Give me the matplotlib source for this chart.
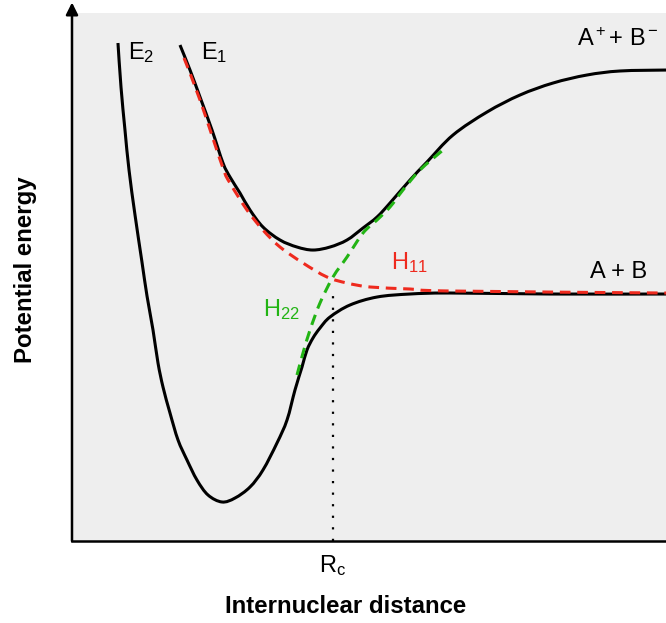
import matplotlib
matplotlib.use("Agg")
import numpy as np
import matplotlib.pyplot as plt
from matplotlib.path import Path
from matplotlib.patches import PathPatch

plt.rcParams['font.family'] = ['Liberation Sans', 'DejaVu Sans']
plt.rcParams['mathtext.fontset'] = 'custom'
plt.rcParams['mathtext.rm'] = 'Liberation Sans'
plt.rcParams['mathtext.it'] = 'Liberation Sans'

# curves (arbitrary units, axes span 0..10 both ways)
e2_r = [0.774, 0.825, 0.892, 0.960, 1.061, 1.178, 1.263, 1.364, 1.448, 1.532,
        1.650, 1.785, 1.936, 2.104, 2.290, 2.525, 2.744, 2.997, 3.215, 3.451,
        3.620, 3.754, 3.872, 3.956, 4.057, 4.175, 4.343, 4.680, 5.135, 5.690,
        6.364, 8.047, 10.0]
e2_v = [9.432, 8.598, 7.784, 7.027, 6.174, 5.284, 4.640, 3.996, 3.371, 2.917,
        2.424, 1.913, 1.534, 1.155, 0.871, 0.739, 0.814, 1.023, 1.345, 1.856,
        2.292, 2.860, 3.295, 3.617, 3.845, 4.034, 4.242, 4.470, 4.621, 4.678,
        4.697, 4.678, 4.678]

e1_r = [1.818, 1.987, 2.155, 2.357, 2.542, 2.660, 2.828, 2.997, 3.215, 3.502,
        3.788, 4.057, 4.343, 4.630, 4.899, 5.135, 5.354, 5.690, 5.976, 6.414,
        6.987, 7.542, 8.098, 8.670, 9.226, 10.0]
e1_v = [9.394, 8.920, 8.409, 7.784, 7.159, 6.894, 6.591, 6.269, 5.947, 5.701,
        5.568, 5.511, 5.568, 5.701, 5.928, 6.136, 6.402, 6.837, 7.178, 7.689,
        8.125, 8.447, 8.674, 8.826, 8.902, 8.920]

h11_r = [1.886, 2.155, 2.542, 2.660, 2.946, 3.215, 3.502, 3.889, 4.293, 4.630,
         5.017, 5.690, 6.364, 10.0]
h11_v = [9.148, 8.352, 7.064, 6.780, 6.269, 5.890, 5.568, 5.265, 5.000, 4.886,
         4.811, 4.773, 4.735, 4.697]

h22_r = [3.788, 3.889, 4.007, 4.175, 4.394, 4.630, 4.899, 5.135, 5.354, 5.572,
         5.859, 6.246]
h22_v = [3.144, 3.561, 3.996, 4.508, 5.000, 5.379, 5.833, 6.080, 6.326, 6.648,
         7.027, 7.405]

r_c = 4.394
r_c_top = 4.66

red = '#ee2a1e'
green = '#22b414'


def smooth_path(xs, ys):
    # bezier path through the read points (catmull-rom tangents)
    p = np.column_stack([xs, ys])
    verts = [p[0]]
    codes = [Path.MOVETO]
    for i in range(len(p) - 1):
        p0 = p[i - 1] if i > 0 else p[i]
        p3 = p[i + 2] if i + 2 < len(p) else p[i + 1]
        verts += [p[i] + (p[i + 1] - p0) / 6, p[i + 1] - (p3 - p[i]) / 6, p[i + 1]]
        codes += [Path.CURVE4] * 3
    return Path(verts, codes)


fig = plt.figure(figsize=(6.66, 6.23), dpi=100)
ax = fig.add_axes([0.1081, 0.1316, 0.8919, 0.8475])
ax.set_facecolor('#eeeeee')

for xs, ys, col, ls in [(e2_r, e2_v, 'black', '-'),
                        (e1_r, e1_v, 'black', '-'),
                        (h11_r, h11_v, red, (0, (3.5, 2.2))),
                        (h22_r, h22_v, green, (0, (3.5, 2.2)))]:
    ax.add_patch(PathPatch(smooth_path(xs, ys), facecolor='none', edgecolor=col,
                           lw=2.2, linestyle=ls, capstyle='butt'))

ax.plot([r_c, r_c], [0, r_c_top], color='black', lw=1.6, dashes=(1, 4.2))

fs = 17
ax.text(0.943, 9.26, 'E$_2$', fontsize=fs, va='center', ha='left')
ax.text(2.172, 9.26, 'E$_1$', fontsize=fs, va='center', ha='left')
ax.text(9.88, 9.49, 'A$^+$+ B$^-$', fontsize=fs, va='center', ha='right')
ax.text(8.72, 5.09, 'A + B', fontsize=fs, va='center', ha='left')
ax.text(5.37, 5.28, 'H$_{11}$', fontsize=fs, va='center', ha='left', color=red)
ax.text(3.22, 4.375, 'H$_{22}$', fontsize=fs, va='center', ha='left', color=green)
ax.text(r_c, -0.47, 'R$_c$', fontsize=fs, va='center', ha='center')

ax.set_xlim(0, 10)
ax.set_ylim(0, 10)
ax.set_xticks([])
ax.set_yticks([])
ax.spines['top'].set_visible(False)
ax.spines['right'].set_visible(False)
ax.spines['left'].set_visible(False)
ax.spines['bottom'].set_linewidth(1.8)

# energy axis drawn as an arrow
ax.annotate('', xy=(0, 1.02), xytext=(0, 0), xycoords='axes fraction',
            arrowprops=dict(arrowstyle='-|>', color='black', lw=1.8,
                            mutation_scale=18, shrinkA=0, shrinkB=0),
            annotation_clip=False)

ax.set_xlabel('Internuclear distance', fontsize=17.3, fontweight='bold')
ax.xaxis.label.set_va('center')
ax.xaxis.set_label_coords(0.461, (623 - 606 - 82) / 528)
ax.set_ylabel('Potential energy', fontsize=17.3, fontweight='bold')
ax.yaxis.set_label_coords(-0.059, (541 - 270) / 528)

fig.savefig('out.png', dpi=100)
